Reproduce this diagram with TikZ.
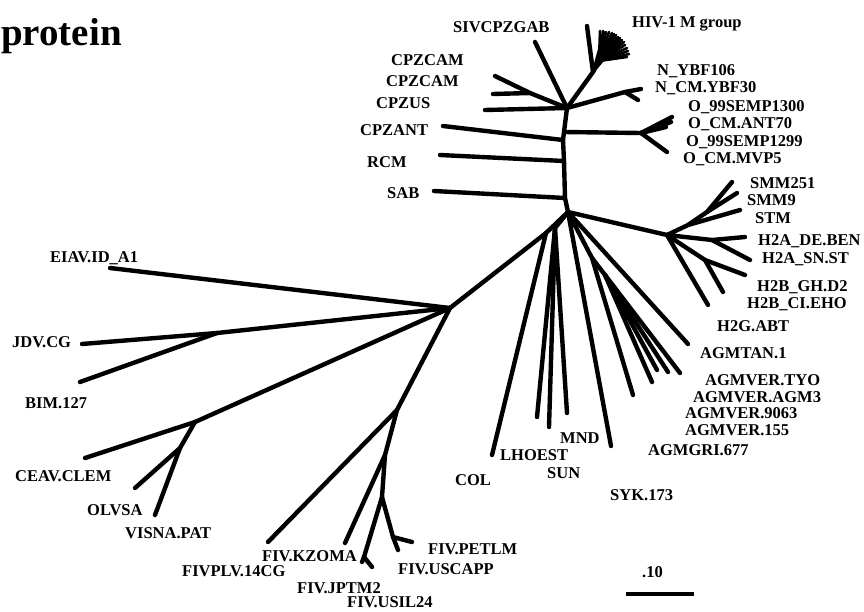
\documentclass[tikz,border=0pt]{standalone}
\usepackage{fontspec}
\setmainfont{Liberation Serif}
\newcommand\lblfont{\fontsize{16.5}{18}\selectfont\bfseries}
\newcommand\ttlfont{\fontsize{39}{44}\selectfont\bfseries}
\tikzset{
  br/.style={line width=4.4pt, line cap=round, line join=round},
  fan/.style={line width=2.6pt, line cap=round},
  lab/.style={font=\lblfont, anchor=base west, inner sep=0pt},
}
\begin{document}
\begin{tikzpicture}[x=1pt,y=-1pt]
\useasboundingbox (0,0) rectangle (864,611);
\node[anchor=base west, inner sep=0pt, font=\ttlfont] (title) at (1,45) {protein};

% ---------- internal nodes ----------
\coordinate (J1) at (567,108);
\coordinate (Jo) at (564,132);
\coordinate (Ja) at (563,140);
\coordinate (Jr) at (564,161);
\coordinate (Js) at (565,198);
\coordinate (R)  at (568,212);
\coordinate (Nc) at (530,93);
\coordinate (M0) at (593,72);
\coordinate (M1) at (599,61);
\coordinate (Nn) at (625,92);
\coordinate (No) at (641,133);
\coordinate (H)  at (667,235);
\coordinate (S1) at (688,225);
\coordinate (S2) at (707,212);
\coordinate (Ha) at (712,240);
\coordinate (Hb) at (705,260);
\coordinate (Nl) at (546,233);
\coordinate (Nls) at (555,228);
\coordinate (Nag) at (592,258);
\coordinate (Nv) at (605,275);
\coordinate (L)  at (450,308);
\coordinate (Jb) at (217,333);
\coordinate (Cn) at (195,422);
\coordinate (Ov) at (180,448);
\coordinate (F)  at (397,410);
\coordinate (F2) at (385,455);
\coordinate (F3) at (382,497);
\coordinate (F4) at (364,557);
\coordinate (F5) at (393,537);

% ---------- tips ----------
\coordinate (tSIV) at (535,42);
\coordinate (tCAM1) at (495,76);
\coordinate (tCAM2) at (493,94);
\coordinate (tUS) at (485,110);
\coordinate (tANT) at (443,126);
\coordinate (tRCM) at (440,155);
\coordinate (tSAB) at (434,191);
\coordinate (tM) at (587,26);
\coordinate (tN1) at (641,89);
\coordinate (tN2) at (638,100);
\coordinate (tO1) at (672,117);
\coordinate (tO2) at (671,122);
\coordinate (tO3) at (666,127);
\coordinate (tO4) at (667,152);
\coordinate (tSMM251) at (732,182);
\coordinate (tSMM9) at (737,193);
\coordinate (tSTM) at (740,210);
\coordinate (tH2A1) at (745,237);
\coordinate (tH2A2) at (750,260);
\coordinate (tH2B1) at (745,275);
\coordinate (tH2B2) at (723,292);
\coordinate (tH2G) at (708,305);
\coordinate (tTAN) at (688,344);
\coordinate (tTYO) at (680,373);
\coordinate (tAGM3) at (668,372);
\coordinate (t9063) at (657,370);
\coordinate (t155) at (652,382);
\coordinate (tGRI) at (633,395);
\coordinate (tSYK) at (611,446);
\coordinate (tMND) at (567,413);
\coordinate (tSUN) at (549,427);
\coordinate (tLHO) at (537,417);
\coordinate (tCOL) at (492,455);
\coordinate (tEIAV) at (110,268);
\coordinate (tJDV) at (82,344);
\coordinate (tBIM) at (80,382);
\coordinate (tCEAV) at (85,458);
\coordinate (tOLV) at (135,488);
\coordinate (tVIS) at (155,515);
\coordinate (tF1) at (268,542);
\coordinate (tF2) at (345,543);
\coordinate (tF3a) at (362,562);
\coordinate (tF3b) at (372,567);
\coordinate (tF5a) at (398,550);
\coordinate (tF5b) at (412,542);

% ---------- branches ----------
\draw[br] (J1) -- (Jo) -- (Ja) -- (Jr) -- (Js) -- (R);
\draw[br] (J1) -- (tSIV);
\draw[br] (J1) -- (Nc) -- (tCAM1);
\draw[br] (Nc) -- (tCAM2);
\draw[br] (J1) -- (tUS);
\draw[br] (J1) -- (M0) -- (tM);
\draw[br] (M0) -- (M1);
\foreach \p in {(600,31),(603,31),(606,32),(609,32),(612,33),(614,34),(616,35),(618,37),(620,38),(622,40),(624,42),(625,45),(627,48),(628,51),(629,54),(627,57)}
  \draw[fan] (M1) -- \p;
\draw[fan] (M0) -- (604,32);
\draw[fan] (M0) -- (612,34);
\draw[fan] (M0) -- (620,40);
\draw[br] (J1) -- (Nn) -- (tN1);
\draw[br] (Nn) -- (tN2);
\draw[br] (Jo) -- (No);
\draw[br] (No) -- (tO1);
\draw[br] (No) -- (tO2);
\draw[br] (No) -- (tO3);
\draw[br] (No) -- (tO4);
\draw[br] (Ja) -- (tANT);
\draw[br] (Jr) -- (tRCM);
\draw[br] (Js) -- (tSAB);

\draw[br] (R) -- (H);
\draw[br] (H) -- (S1) -- (tSTM);
\draw[br] (S1) -- (S2) -- (tSMM251);
\draw[br] (S2) -- (tSMM9);
\draw[br] (H) -- (Ha) -- (tH2A1);
\draw[br] (Ha) -- (tH2A2);
\draw[br] (H) -- (Hb) -- (tH2B1);
\draw[br] (Hb) -- (tH2B2);
\draw[br] (H) -- (tH2G);

\draw[br] (R) -- (tTAN);
\draw[br] (R) -- (Nag) -- (tGRI);
\draw[br] (Nag) -- (Nv) -- (t155);
\draw[br] (Nv) -- (t9063);
\draw[br] (Nv) -- (tAGM3);
\draw[br] (Nv) -- (tTYO);
\draw[br] (R) -- (tSYK);
\draw[br] (R) -- (Nls) -- (tMND);
\draw[br] (Nls) -- (tSUN);
\draw[br] (Nls) -- (tLHO);
\draw[br] (R) -- (Nl) -- (tCOL);
\draw[br] (Nl) -- (L);

\draw[br] (L) -- (tEIAV);
\draw[br] (L) -- (Jb) -- (tJDV);
\draw[br] (Jb) -- (tBIM);
\draw[br] (L) -- (Cn) -- (tCEAV);
\draw[br] (Cn) -- (Ov) -- (tOLV);
\draw[br] (Ov) -- (tVIS);
\draw[br] (L) -- (F) -- (tF1);
\draw[br] (F) -- (F2) -- (tF2);
\draw[br] (F2) -- (F3) -- (F4) -- (tF3a);
\draw[br] (F4) -- (tF3b);
\draw[br] (F3) -- (F5) -- (tF5a);
\draw[br] (F5) -- (tF5b);

% scale bar
\coordinate (sb1) at (626,594);
\coordinate (sb2) at (694,594);
\draw[line width=4.4pt] (sb1) -- (sb2);
\node[lab] (sbl) at (642,577) {.10};

% ---------- labels ----------
\node[lab] (lSIV) at (453,32) {SIVCPZGAB};
\node[lab] (lHIV) at (632,27) {HIV-1 M group};
\node[lab] (lCAM1) at (391,65) {CPZCAM};
\node[lab] (lCAM2) at (386,86) {CPZCAM};
\node[lab] (lUS) at (376,108) {CPZUS};
\node[lab] (lANT) at (360,135) {CPZANT};
\node[lab] (lRCM) at (367,167) {RCM};
\node[lab] (lSAB) at (387,198) {SAB};
\node[lab] (lN1) at (657,75) {N\_YBF106};
\node[lab] (lN2) at (655,92) {N\_CM.YBF30};
\node[lab] (lO1) at (688,111) {O\_99SEMP1300};
\node[lab] (lO2) at (688,128) {O\_CM.ANT70};
\node[lab] (lO3) at (686,146) {O\_99SEMP1299};
\node[lab] (lO4) at (683,163) {O\_CM.MVP5};
\node[lab] (lSMM251) at (750,188) {SMM251};
\node[lab] (lSMM9) at (747,205) {SMM9};
\node[lab] (lSTM) at (755,223) {STM};
\node[lab] (lH2A1) at (758,245) {H2A\_DE.BEN};
\node[lab] (lH2A2) at (762,263) {H2A\_SN.ST};
\node[lab] (lH2B1) at (757,291) {H2B\_GH.D2};
\node[lab] (lH2B2) at (747,308) {H2B\_CI.EHO};
\node[lab] (lH2G) at (717,331) {H2G.ABT};
\node[lab] (lTAN) at (700,358) {AGMTAN.1};
\node[lab] (lTYO) at (705,385) {AGMVER.TYO};
\node[lab] (lAGM3) at (693,402) {AGMVER.AGM3};
\node[lab] (l9063) at (685,418) {AGMVER.9063};
\node[lab] (l155) at (685,435) {AGMVER.155};
\node[lab] (lGRI) at (648,455) {AGMGRI.677};
\node[lab] (lMND) at (560,443) {MND};
\node[lab] (lLHO) at (500,460) {LHOEST};
\node[lab] (lSUN) at (547,478) {SUN};
\node[lab] (lCOL) at (455,485) {COL};
\node[lab] (lSYK) at (610,500) {SYK.173};
\node[lab] (lEIAV) at (50,262) {EIAV.ID\_A1};
\node[lab] (lJDV) at (12,347) {JDV.CG};
\node[lab] (lBIM) at (25,408) {BIM.127};
\node[lab] (lCEAV) at (15,481) {CEAV.CLEM};
\node[lab] (lOLV) at (87,515) {OLVSA};
\node[lab] (lVIS) at (125,538) {VISNA.PAT};
\node[lab] (lKZ) at (262,561) {FIV.KZOMA};
\node[lab] (lPLV) at (182,576) {FIVPLV.14CG};
\node[lab] (lJP) at (297,593) {FIV.JPTM2};
\node[lab] (lUSIL) at (347,607) {FIV.USIL24};
\node[lab] (lPET) at (428,554) {FIV.PETLM};
\node[lab] (lUSC) at (398,574) {FIV.USCAPP};
\end{tikzpicture}
\end{document}
